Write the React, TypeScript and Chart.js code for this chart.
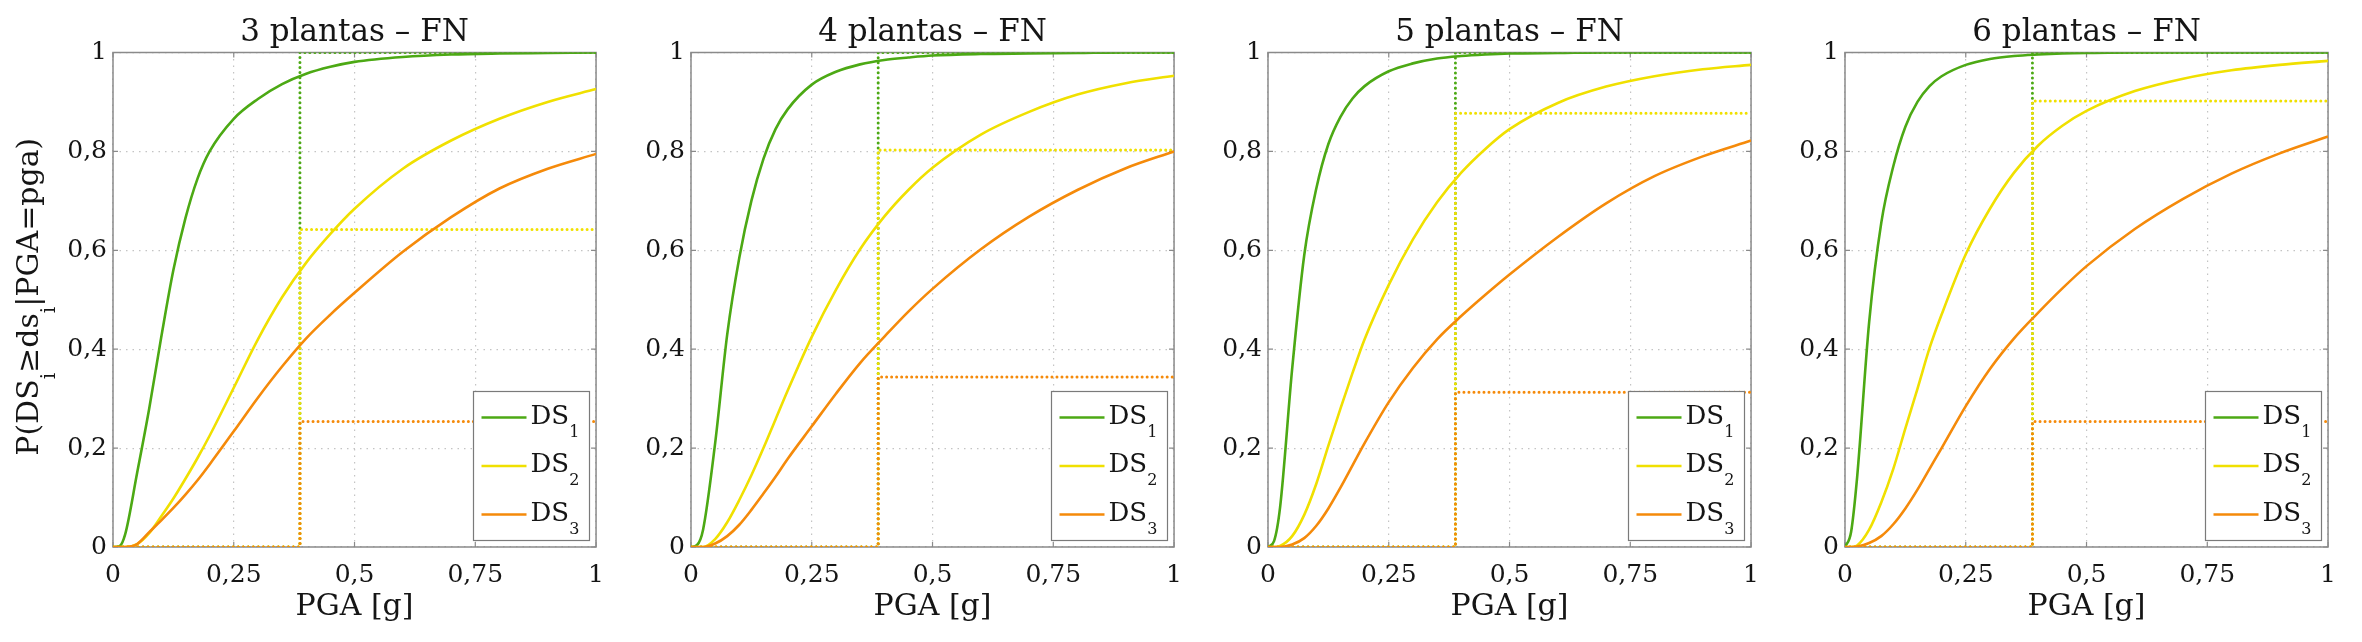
import React, { useEffect, useRef } from "react";
import { Chart, ChartConfiguration, registerables } from "chart.js";

Chart.register(...registerables);

// PGA sample points (g) shared by every curve
const pga = [0, 0.0125, 0.025, 0.05, 0.075, 0.1, 0.125, 0.15, 0.175, 0.2, 0.25, 0.3, 0.35, 0.4, 0.45, 0.5, 0.6, 0.7, 0.8, 0.9, 1];

// 3 plantas
const ds1_3p = [0, 0.001, 0.025, 0.15, 0.28, 0.425, 0.56, 0.665, 0.745, 0.8, 0.866, 0.906, 0.936, 0.957, 0.971, 0.981, 0.991, 0.996, 0.998, 0.999, 1];
const ds2_3p = [0, 0, 0, 0.006, 0.028, 0.062, 0.098, 0.138, 0.18, 0.225, 0.322, 0.42, 0.505, 0.575, 0.633, 0.684, 0.765, 0.822, 0.866, 0.9, 0.926];
const ds3_3p = [0, 0, 0, 0.006, 0.03, 0.054, 0.079, 0.106, 0.135, 0.167, 0.234, 0.302, 0.365, 0.422, 0.47, 0.514, 0.597, 0.667, 0.725, 0.765, 0.795];

// 4 plantas
const ds1_4p = [0, 0.004, 0.035, 0.21, 0.43, 0.585, 0.7, 0.785, 0.845, 0.885, 0.935, 0.961, 0.976, 0.985, 0.99, 0.994, 0.997, 0.998, 0.999, 1, 1];
const ds2_4p = [0, 0, 0, 0.016, 0.05, 0.095, 0.145, 0.2, 0.258, 0.316, 0.425, 0.52, 0.602, 0.668, 0.722, 0.767, 0.834, 0.88, 0.915, 0.938, 0.953];
const ds3_4p = [0, 0, 0, 0.007, 0.022, 0.045, 0.075, 0.108, 0.142, 0.178, 0.244, 0.31, 0.372, 0.425, 0.476, 0.522, 0.602, 0.668, 0.722, 0.766, 0.8];

// 5 plantas
const ds1_5p = [0, 0.012, 0.08, 0.36, 0.59, 0.725, 0.815, 0.87, 0.907, 0.932, 0.962, 0.978, 0.988, 0.993, 0.996, 0.998, 0.999, 1, 1, 1, 1];
const ds2_5p = [0, 0, 0.002, 0.022, 0.065, 0.128, 0.205, 0.28, 0.352, 0.42, 0.53, 0.622, 0.697, 0.757, 0.805, 0.845, 0.898, 0.931, 0.952, 0.966, 0.975];
const ds3_5p = [0, 0, 0, 0.005, 0.018, 0.043, 0.078, 0.12, 0.165, 0.21, 0.293, 0.362, 0.42, 0.467, 0.51, 0.551, 0.627, 0.695, 0.75, 0.79, 0.822];

// 6 plantas
const ds1_6p = [0, 0.03, 0.14, 0.455, 0.655, 0.77, 0.85, 0.9, 0.932, 0.952, 0.975, 0.987, 0.993, 0.996, 0.998, 0.999, 1, 1, 1, 1, 1];
const ds2_6p = [0, 0, 0.003, 0.035, 0.09, 0.158, 0.24, 0.32, 0.402, 0.47, 0.592, 0.684, 0.757, 0.812, 0.852, 0.882, 0.922, 0.947, 0.964, 0.975, 0.983];
const ds3_6p = [0, 0, 0.001, 0.008, 0.022, 0.046, 0.078, 0.116, 0.158, 0.2, 0.285, 0.36, 0.422, 0.474, 0.523, 0.568, 0.643, 0.704, 0.755, 0.796, 0.83];

// dotted reference: PGA of the vertical line and the level reached by each DS
const pgaMarks = [0.387, 0.3875, 0.388, 0.388];
const levels3p = [1, 0.642, 0.254];
const levels4p = [1, 0.803, 0.344];
const levels5p = [1, 0.877, 0.313];
const levels6p = [1, 0.902, 0.254];

const titles = ["3 plantas – FN", "4 plantas – FN", "5 plantas – FN", "6 plantas – FN"];
const xTickLabels = ["0", "0,25", "0,5", "0,75", "1"];
const yTickLabels = ["0", "0,2", "0,4", "0,6", "0,8", "1"];
const dsLabels = [["DS", "1"], ["DS", "2"], ["DS", "3"]];

const panelCurves = [
  [ds1_3p, ds2_3p, ds3_3p],
  [ds1_4p, ds2_4p, ds3_4p],
  [ds1_5p, ds2_5p, ds3_5p],
  [ds1_6p, ds2_6p, ds3_6p],
];
const panelLevels = [levels3p, levels4p, levels5p, levels6p];

const COLORS = ["#4ca914", "#f0e000", "#f58a0a"];
const TEXT = "#151515";
const GRID = "#c4c4c4";
const AXIS = "#8a8a8a";
const SERIF = "'DejaVu Serif', serif";

const AXIS_W = 113;
const PLOT_W = 494;
const CANVAS_W = AXIS_W + PLOT_W + 10;
const CANVAS_H = 642;
const canvasLeft = [0, 578, 1155, 1732];

type Run = [string, boolean];

function drawRuns(
  ctx: CanvasRenderingContext2D,
  runs: Run[],
  x: number,
  y: number,
  mainFont: string,
  subFont: string,
  drop: number
) {
  for (const [t, sub] of runs) {
    ctx.font = sub ? subFont : mainFont;
    ctx.fillText(t, x, sub ? y + drop : y);
    x += ctx.measureText(t).width;
  }
}

function runsWidth(ctx: CanvasRenderingContext2D, runs: Run[], mainFont: string, subFont: string) {
  let w = 0;
  for (const [t, sub] of runs) {
    ctx.font = sub ? subFont : mainFont;
    w += ctx.measureText(t).width;
  }
  return w;
}

const panelDecor = {
  id: "panelDecor",
  beforeDatasetsDraw(chart: any) {
    const { ctx, chartArea: a, scales } = chart;
    ctx.save();
    ctx.strokeStyle = AXIS;
    ctx.lineWidth = 1.2;
    ctx.beginPath();
    for (const t of scales.x.ticks) {
      const px = scales.x.getPixelForValue(t.value);
      ctx.moveTo(px, a.bottom);
      ctx.lineTo(px, a.bottom - 5);
      ctx.moveTo(px, a.top);
      ctx.lineTo(px, a.top + 5);
    }
    for (const t of scales.y.ticks) {
      const py = scales.y.getPixelForValue(t.value);
      ctx.moveTo(a.left, py);
      ctx.lineTo(a.left + 5, py);
      ctx.moveTo(a.right, py);
      ctx.lineTo(a.right - 5, py);
    }
    ctx.stroke();
    ctx.lineWidth = 1.5;
    ctx.strokeRect(a.left, a.top, a.right - a.left, a.bottom - a.top);
    ctx.restore();
  },
  afterDraw(chart: any, _args: any, opts: any) {
    const { ctx, chartArea: a } = chart;
    ctx.save();
    ctx.fillStyle = TEXT;
    ctx.textBaseline = "alphabetic";
    ctx.textAlign = "center";
    ctx.font = `31px ${SERIF}`;
    ctx.fillText(opts.title, (a.left + a.right) / 2, 41);

    // legend box, bottom right inside the axes
    const bx = Math.round(a.right - 123) + 0.5;
    const by = Math.round(a.bottom - 156) + 0.5;
    const bw = 116;
    const bh = 149;
    ctx.fillStyle = "#ffffff";
    ctx.fillRect(bx, by, bw, bh);
    ctx.strokeStyle = "#7a7a7a";
    ctx.lineWidth = 1.2;
    ctx.strokeRect(bx, by, bw, bh);
    ctx.textAlign = "left";
    dsLabels.forEach(([name, sub], i) => {
      const ly = by + 26 + i * 48.5;
      ctx.strokeStyle = COLORS[i];
      ctx.lineWidth = 2.5;
      ctx.beginPath();
      ctx.moveTo(bx + 8, ly);
      ctx.lineTo(bx + 53, ly);
      ctx.stroke();
      ctx.fillStyle = TEXT;
      drawRuns(ctx, [[name, false], [sub, true]], bx + 57, ly + 6, `26px ${SERIF}`, `16px ${SERIF}`, 13);
    });

    if (opts.yTitle) {
      const runs: Run[] = [
        ["P(DS", false],
        ["i", true],
        ["≥ds", false],
        ["i", true],
        ["|PGA=pga)", false],
      ];
      const mainFont = `30px ${SERIF}`;
      const subFont = `20px ${SERIF}`;
      const w = runsWidth(ctx, runs, mainFont, subFont);
      ctx.translate(38, (a.top + a.bottom) / 2 - 3);
      ctx.rotate(-Math.PI / 2);
      ctx.fillStyle = TEXT;
      drawRuns(ctx, runs, -w / 2, 0, mainFont, subFont, 17);
    }
    ctx.restore();
  },
};

function buildConfig(k: number): ChartConfiguration<"line"> {
  const mark = pgaMarks[k];
  const curveSets = panelCurves[k].map((vals, i) => ({
    label: dsLabels[i].join(""),
    data: pga.map((x, j) => ({ x, y: vals[j] })),
    borderColor: COLORS[i],
    backgroundColor: COLORS[i],
    borderWidth: 2.6,
    pointRadius: 0,
    fill: false,
    cubicInterpolationMode: "monotone" as const,
    order: 2 - i,
  }));
  // dotted step lines: round caps on near-zero dashes give round dots
  const stepSets = panelLevels[k].map((lv, i) => ({
    label: dsLabels[i].join("") + " ref",
    data: [
      { x: 0, y: 0 },
      { x: mark, y: 0 },
      { x: mark, y: lv },
      { x: 1, y: lv },
    ],
    borderColor: COLORS[i],
    backgroundColor: COLORS[i],
    borderWidth: 3,
    borderDash: [0.01, 5],
    borderCapStyle: "round" as const,
    pointRadius: 0,
    fill: false,
    tension: 0,
    order: 5 - i,
  }));

  const tickFont = { family: SERIF, size: 25 };

  return {
    type: "line",
    data: { datasets: [...curveSets, ...stepSets] as any },
    options: {
      responsive: false,
      animation: false,
      events: [],
      layout: { padding: { top: 52.5, right: 10, bottom: 0, left: 0 } },
      scales: {
        x: {
          type: "linear",
          min: 0,
          max: 1,
          ticks: {
            stepSize: 0.25,
            autoSkip: false,
            maxRotation: 0,
            padding: 13,
            color: TEXT,
            font: tickFont,
            callback: (v: any) => xTickLabels[Math.round(Number(v) * 4)],
          },
          grid: { color: GRID, lineWidth: 1.2, drawTicks: false },
          border: { display: false, dash: [1.5, 5] },
          title: {
            display: true,
            text: "PGA [g]",
            color: TEXT,
            font: { family: SERIF, size: 30 },
            padding: { top: 0, bottom: 17 },
          },
          afterFit: (s: any) => {
            s.height = 95;
          },
        },
        y: {
          type: "linear",
          min: 0,
          max: 1,
          ticks: {
            stepSize: 0.2,
            padding: 6,
            color: TEXT,
            font: tickFont,
            callback: (v: any) => yTickLabels[Math.round(Number(v) * 5)],
          },
          grid: { color: GRID, lineWidth: 1.2, drawTicks: false },
          border: { display: false, dash: [1.5, 5] },
          afterFit: (s: any) => {
            s.width = AXIS_W;
          },
        },
      },
      plugins: {
        legend: { display: false },
        tooltip: { enabled: false },
        title: { display: false },
        panelDecor: { title: titles[k], yTitle: k === 0 },
      } as any,
    },
    plugins: [panelDecor as any],
  };
}

const Panel: React.FC<{ index: number }> = ({ index }) => {
  const chartRef = useRef<HTMLCanvasElement | null>(null);

  useEffect(() => {
    if (!chartRef.current) return;
    const chart = new Chart(chartRef.current, buildConfig(index));
    return () => {
      chart.destroy();
    };
  }, [index]);

  return (
    <canvas
      ref={chartRef}
      width={CANVAS_W}
      height={CANVAS_H}
      style={{ position: "absolute", left: canvasLeft[index], top: 0 }}
    ></canvas>
  );
};

const App: React.FC = () => (
  <div
    style={{
      position: "absolute",
      left: 0,
      top: 0,
      width: 2362,
      height: 642,
      background: "#ffffff",
      overflow: "hidden",
    }}
  >
    {titles.map((_, i) => (
      <Panel key={i} index={i} />
    ))}
  </div>
);

export default App;
